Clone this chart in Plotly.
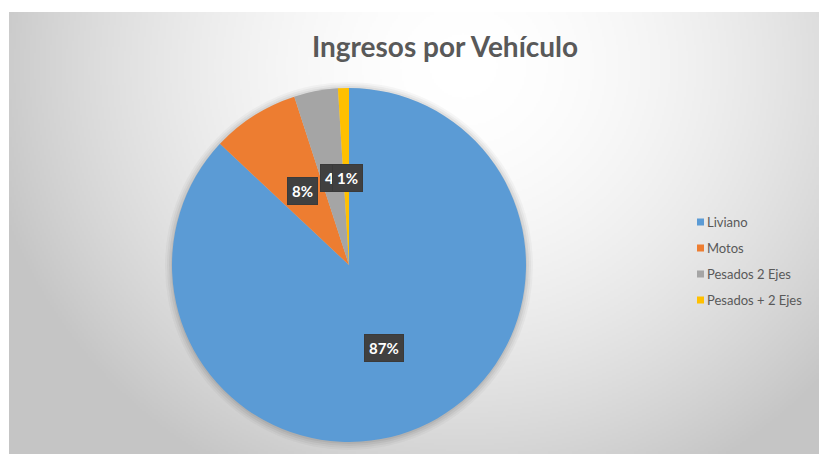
import base64, math, struct, zlib
import plotly.graph_objects as go

# ---- data ----
categories = ["Liviano", "Motos", "Pesados 2 Ejes", "Pesados + 2 Ejes"]
values = [87, 8, 4, 1]
labels_txt = ["87%", "8%", "4%", "1%"]
colors = ["#5B9BD5", "#ED7D31", "#A5A5A5", "#FFC000"]
title_text = "Ingresos por Vehículo"

# label nudges (pixels, styling only)
label_dx = [0, 1, 3, 1]
label_dy = [2, 1, 0, 1]

W, H = 819, 454

# ---- background gradient image (chart area) ----
def gradient_png(w, h):
    rows = []
    cx, cy = 0.56 * w, 0.12 * h
    for j in range(h):
        row = bytearray([0])
        for i in range(w):
            dx = (i - cx) / (w * 0.60)
            dy = (j - cy) / (h * 1.05)
            d = min(1.0, math.sqrt(dx * dx + dy * dy))
            v = int(round(255 - 58 * d ** 1.8))
            row += bytes((v, v, v))
        rows.append(bytes(row))
    raw = b"".join(rows)
    def chunk(t, d):
        c = struct.pack(">I", len(d)) + t + d
        return c + struct.pack(">I", zlib.crc32(t + d) & 0xffffffff)
    png = b"\x89PNG\r\n\x1a\n" + chunk(b"IHDR", struct.pack(">IIBBBBB", w, h, 8, 2, 0, 0, 0))
    png += chunk(b"IDAT", zlib.compress(raw, 9)) + chunk(b"IEND", b"")
    return "data:image/png;base64," + base64.b64encode(png).decode()

bg = gradient_png(405, 221)

# pie geometry (pixels)
pcx, pcy, pr = 349, 265, 177
dom_x = [(pcx - pr) / W, (pcx + pr) / W]
dom_y = [1 - (pcy + pr) / H, 1 - (pcy - pr) / H]

fig = go.Figure(go.Pie(
    labels=categories, values=values, sort=False, direction="clockwise",
    rotation=0, textinfo="none", marker=dict(colors=colors, line=dict(width=0)),
    domain=dict(x=dom_x, y=dom_y), showlegend=False,
))

# soft shadow behind the pie
shapes = []
for k, a in [(7, 0.03), (5, 0.04), (3, 0.05), (1, 0.06)]:
    shapes.append(dict(type="circle", xref="paper", yref="paper", layer="below",
                       x0=(pcx - pr - k) / W, x1=(pcx + pr + k) / W,
                       y0=1 - (pcy + pr + k + 1) / H, y1=1 - (pcy - pr - k + 1) / H,
                       fillcolor=f"rgba(0,0,0,{a})", line=dict(width=0)))

anns = []
total = sum(values)
cum = 0
for v, t, ddx, ddy in zip(values, labels_txt, label_dx, label_dy):
    mid = (cum + v / 2) / total * 2 * math.pi
    cum += v
    px = pcx + 0.5 * pr * math.sin(mid) + ddx
    py = pcy - 0.5 * pr * math.cos(mid) + ddy
    anns.append(dict(x=px / W, y=1 - py / H, xref="paper", yref="paper",
                     xanchor="center", yanchor="middle", showarrow=False, borderpad=4,
                     text=f"<b>{t}</b>", bgcolor="#404040",
                     bordercolor="#3a3a3a", borderwidth=1,
                     font=dict(family="Lato", size=15, color="white")))

# legend (squares as shapes, names as text)
lx, ly0, gap = 697, 222, 26
for i, (c, col) in enumerate(zip(categories, colors)):
    y = ly0 + i * gap
    shapes.append(dict(type="rect", xref="paper", yref="paper",
                       x0=lx / W, x1=(lx + 7) / W, y0=1 - (y + 3.5) / H, y1=1 - (y - 3.5) / H,
                       fillcolor=col, line=dict(width=0)))
    anns.append(dict(x=(lx + 8) / W, y=1 - y / H, xref="paper", yref="paper", xanchor="left",
                     yanchor="middle", text=c, showarrow=False,
                     font=dict(family="Lato", size=13, color="#595959")))

fig.update_layout(
    width=W, height=H, margin=dict(l=0, r=0, t=0, b=0),
    paper_bgcolor="white", plot_bgcolor="white",
    title=dict(text="<b>" + title_text + "</b>", x=445 / W, xanchor="center",
               y=1 - 47 / H, yanchor="middle",
               font=dict(family="Lato", size=28, color="#595959")),
    images=[dict(source=bg, xref="paper", yref="paper", x=9 / W, y=1 - 12 / H,
                 sizex=(W - 9) / W, sizey=(H - 12) / H, sizing="stretch",
                 xanchor="left", yanchor="top", layer="below")],
    shapes=shapes,
    annotations=anns,
)

fig.write_html("out.html", config={"displayModeBar": False},
               post_script="document.body.style.margin='0';document.body.style.overflow='hidden';")
